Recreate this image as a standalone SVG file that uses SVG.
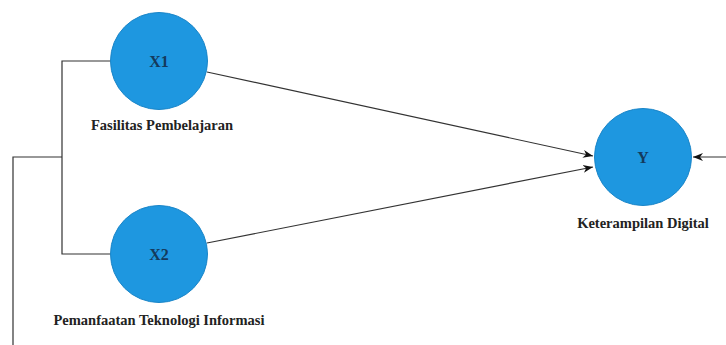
<svg xmlns="http://www.w3.org/2000/svg" width="726" height="345" viewBox="0 0 726 345">
<style>
.node{fill:#1e97e0;stroke:#1a85c8;stroke-width:1}
.nl{font-family:"Liberation Serif",serif;font-weight:bold;font-size:16px;fill:#143a5c;text-anchor:middle}
.lab{font-family:"Liberation Serif",serif;font-weight:bold;font-size:14.5px;fill:#222;text-anchor:middle}
.c{fill:none;stroke:#333;stroke-width:1.2}
</style>
<defs>
<marker id="ah" viewBox="0 0 10 10" refX="10" refY="5" markerWidth="10" markerHeight="10" markerUnits="userSpaceOnUse" orient="auto">
<path d="M0,1 L10,5 L0,9 L3,5 z" fill="#111"/>
</marker>
</defs>
<rect width="726" height="345" fill="#fff"/>
<g id="connectors">
<path class="c" d="M110,61 H62 V254 H110"/>
<path class="c" d="M62,157 H13 V345"/>
<line class="c" x1="207" y1="72" x2="593" y2="156" marker-end="url(#ah)"/>
<line class="c" x1="207" y1="243" x2="593" y2="167" marker-end="url(#ah)"/>
<line class="c" x1="726" y1="157" x2="693" y2="157" marker-end="url(#ah)"/>
</g>
<g id="X1">
<circle class="node" cx="159" cy="61" r="48.5"/>
<text class="nl" x="159" y="67">X1</text>
<text class="lab" x="162" y="130">Fasilitas Pembelajaran</text>
</g>
<g id="X2">
<circle class="node" cx="159" cy="254" r="48.5"/>
<text class="nl" x="159" y="260">X2</text>
<text class="lab" x="159" y="325">Pemanfaatan Teknologi Informasi</text>
</g>
<g id="Y">
<circle class="node" cx="643" cy="157" r="48.5"/>
<text class="nl" x="643" y="163">Y</text>
<text class="lab" x="643" y="228">Keterampilan Digital</text>
</g>
</svg>
